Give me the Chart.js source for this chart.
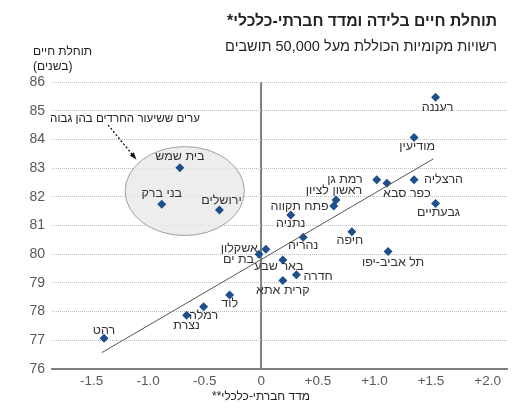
<!DOCTYPE html>
<html lang="he">
<head>
<meta charset="UTF-8">
<title>תוחלת חיים בלידה ומדד חברתי-כלכלי</title>
<style>
    body { margin: 0; background: #fff; }
    canvas { display: block; }
</style>
<script src="https://cdn.jsdelivr.net/npm/chart.js"></script>
</head>
<body>
<canvas id="myChart" width="531" height="408"></canvas>
<script>
// data
const cities = ['רעננה', 'מודיעין', 'רמת גן', 'כפר סבא', 'הרצליה', 'גבעתיים', 'ראשון לציון', 'פתח תקווה',
    'נתניה', 'חיפה', 'נהריה', 'תל אביב-יפו', 'אשקלון', 'בת ים', 'באר שבע', 'חדרה', 'קרית אתא', 'לוד',
    'רמלה', 'נצרת', 'רהט', 'בית שמש', 'בני ברק', 'ירושלים'];
const socioIndex = [1.54, 1.35, 1.02, 1.11, 1.35, 1.54, 0.66, 0.64, 0.26, 0.80, 0.37, 1.12, 0.04, -0.02,
    0.19, 0.31, 0.19, -0.28, -0.51, -0.66, -1.39, -0.72, -0.88, -0.37];
const lifeExp = [85.47, 84.07, 82.59, 82.47, 82.59, 81.77, 81.89, 81.68, 81.37, 80.78, 80.59, 80.09, 80.17,
    80.00, 79.80, 79.28, 79.08, 78.58, 78.17, 77.87, 77.07, 83.01, 81.74, 81.54];
const trendX = [-1.41, 1.52];
const trendY = [76.57, 83.32];
const xTickValues = [-1.5, -1.0, -0.5, 0, 0.5, 1.0, 1.5, 2.0];
const xTickLabels = ['-1.5', '-1.0', '-0.5', '0', '+0.5', '+1.0', '+1.5', '+2.0'];
const yTickValues = [76, 77, 78, 79, 80, 81, 82, 83, 84, 85, 86];

// where each city name sits relative to its marker: [dx, dy, align]
const labelPlace = {
    'רעננה': [2, 10, 'center'], 'מודיעין': [3, 9, 'center'], 'רמת גן': [-14, 0, 'right'],
    'כפר סבא': [20, 10, 'center'], 'הרצליה': [10, 0, 'left'], 'גבעתיים': [3, 9, 'center'],
    'ראשון לציון': [-2, -9, 'center'], 'פתח תקווה': [-5, 1, 'right'], 'נתניה': [0, 9, 'center'],
    'חיפה': [-2, 9, 'center'], 'נהריה': [0, 8, 'center'], 'תל אביב-יפו': [5, 11, 'center'],
    'אשקלון': [-8, -1, 'right'], 'בת ים': [-5, 5, 'right'], 'באר שבע': [-4, 7, 'center'],
    'חדרה': [7, 2, 'left'], 'קרית אתא': [0, 10, 'center'], 'לוד': [0, 9, 'center'],
    'רמלה': [0, 9, 'center'], 'נצרת': [0, 10, 'center'], 'רהט': [0, -8, 'center'],
    'בית שמש': [0, -11, 'center'], 'בני ברק': [0, -11, 'center'], 'ירושלים': [2, -9, 'center']
};

// ellipse round the haredi cities, in axis units
const haredEllipse = { cx: -0.677, cy: 82.2, rx: 0.527, ry: 1.55 };
const haredNote = 'ערים ששיעור החרדים בהן גבוה';

const FONT = '"Liberation Sans", Arial, "DejaVu Sans", sans-serif';

// pick a font size so the text spans the given width
function fitFont(ctx, text, weight, width) {
    ctx.font = weight + ' 12px ' + FONT;
    const size = 12 * width / ctx.measureText(text).width;
    ctx.font = weight + ' ' + size.toFixed(2) + 'px ' + FONT;
}

const extras = {
    id: 'extras',
    beforeDatasetsDraw(chart) {
        const ctx = chart.ctx;
        const xs = chart.scales.x, ys = chart.scales.y;
        const cx = xs.getPixelForValue(haredEllipse.cx);
        const cy = ys.getPixelForValue(haredEllipse.cy);
        const rx = xs.getPixelForValue(haredEllipse.cx + haredEllipse.rx) - cx;
        const ry = cy - ys.getPixelForValue(haredEllipse.cy + haredEllipse.ry);
        ctx.save();
        ctx.beginPath();
        ctx.ellipse(cx, cy, rx, ry, 0, 0, Math.PI * 2);
        ctx.fillStyle = 'rgba(232,232,232,0.8)';
        ctx.fill();
        ctx.strokeStyle = '#a0a0a0';
        ctx.lineWidth = 1;
        ctx.stroke();

        // note and dashed arrow
        ctx.direction = 'rtl';
        fitFont(ctx, haredNote, 'normal', 150);
        ctx.fillStyle = '#222';
        ctx.textAlign = 'right';
        ctx.textBaseline = 'middle';
        ctx.fillText(haredNote, 200, ys.getPixelForValue(84.7));

        const ax0 = xs.getPixelForValue(-1.354), ay0 = ys.getPixelForValue(84.5);
        const ax1 = xs.getPixelForValue(-1.115), ay1 = ys.getPixelForValue(83.35);
        ctx.beginPath();
        ctx.setLineDash([2, 2]);
        ctx.strokeStyle = '#111';
        ctx.lineWidth = 1.3;
        ctx.moveTo(ax0, ay0);
        ctx.lineTo(ax1, ay1);
        ctx.stroke();
        ctx.setLineDash([]);
        const ang = Math.atan2(ay1 - ay0, ax1 - ax0);
        ctx.beginPath();
        ctx.moveTo(ax1 + 2 * Math.cos(ang), ay1 + 2 * Math.sin(ang));
        ctx.lineTo(ax1 - 6 * Math.cos(ang - 0.45), ay1 - 6 * Math.sin(ang - 0.45));
        ctx.lineTo(ax1 - 6 * Math.cos(ang + 0.45), ay1 - 6 * Math.sin(ang + 0.45));
        ctx.closePath();
        ctx.fillStyle = '#111';
        ctx.fill();
        ctx.restore();
    },
    afterDatasetsDraw(chart) {
        const ctx = chart.ctx;
        const meta = chart.getDatasetMeta(1);
        ctx.save();
        ctx.font = '12.5px ' + FONT;
        ctx.fillStyle = '#333';
        ctx.direction = 'rtl';
        ctx.textBaseline = 'middle';
        meta.data.forEach((pt, i) => {
            const p = labelPlace[cities[i]];
            ctx.textAlign = p[2];
            ctx.fillText(cities[i], pt.x + p[0], pt.y + p[1]);
        });
        ctx.restore();
    },
    afterDraw(chart) {
        const ctx = chart.ctx;
        ctx.save();
        ctx.direction = 'rtl';
        ctx.textBaseline = 'middle';
        ctx.fillStyle = '#222';
        ctx.textAlign = 'right';
        const title = 'תוחלת חיים בלידה ומדד חברתי-כלכלי*';
        fitFont(ctx, title, 'bold', 270);
        ctx.fillText(title, 497, 22);
        const sub = 'רשויות מקומיות הכוללת מעל 50,000 תושבים';
        fitFont(ctx, sub, 'normal', 272);
        ctx.fillText(sub, 497, 47);

        ctx.font = '12px ' + FONT;
        ctx.textAlign = 'left';
        ctx.fillText('תוחלת חיים', 33, 52);
        ctx.fillText('(בשנים)', 33, 67);

        ctx.textAlign = 'center';
        const xTitle = 'מדד חברתי-כלכלי**';
        fitFont(ctx, xTitle, 'normal', 98);
        ctx.fillText(xTitle, 261, 397);
        ctx.restore();
    }
};

new Chart(document.getElementById('myChart'), {
    type: 'scatter',
    data: {
        datasets: [{
            type: 'line',
            data: trendX.map((x, i) => ({ x: x, y: trendY[i] })),
            borderColor: '#555',
            borderWidth: 1,
            pointRadius: 0,
            fill: false
        }, {
            data: socioIndex.map((x, i) => ({ x: x, y: lifeExp[i] })),
            pointStyle: 'rectRot',
            pointRadius: 4.5,
            pointHoverRadius: 4.5,
            backgroundColor: '#1f4e8c',
            borderColor: '#1f4e8c',
            borderWidth: 0
        }]
    },
    options: {
        responsive: false,
        animation: false,
        events: [],
        layout: { padding: { top: 82, right: 23, left: 0, bottom: 0 } },
        plugins: {
            legend: { display: false },
            tooltip: { enabled: false }
        },
        scales: {
            x: {
                type: 'linear',
                min: -1.85,
                max: 2.18,
                afterBuildTicks: s => { s.ticks = xTickValues.map(v => ({ value: v })); },
                afterFit: s => { s.height = 39; },
                ticks: {
                    callback: (v, i) => xTickLabels[i],
                    color: '#595959',
                    font: { size: 13.5, family: FONT },
                    padding: 4,
                    maxRotation: 0
                },
                grid: {
                    color: c => (c.tick && c.tick.value === 0) ? '#7f7f7f' : 'rgba(0,0,0,0)',
                    lineWidth: c => (c.tick && c.tick.value === 0) ? 2 : 0,
                    drawTicks: false
                },
                border: { display: true, color: '#808080', width: 2 }
            },
            y: {
                min: 76,
                max: 86,
                afterBuildTicks: s => { s.ticks = yTickValues.map(v => ({ value: v })); },
                afterFit: s => { s.width = 52; },
                ticks: {
                    color: '#595959',
                    font: { size: 14, family: FONT },
                    padding: 7
                },
                grid: {
                    color: '#bdbdbd',
                    lineWidth: 1,
                    drawTicks: false
                },
                border: { display: false, dash: [1, 1] }
            }
        }
    },
    plugins: [extras]
});
</script>
</body>
</html>
